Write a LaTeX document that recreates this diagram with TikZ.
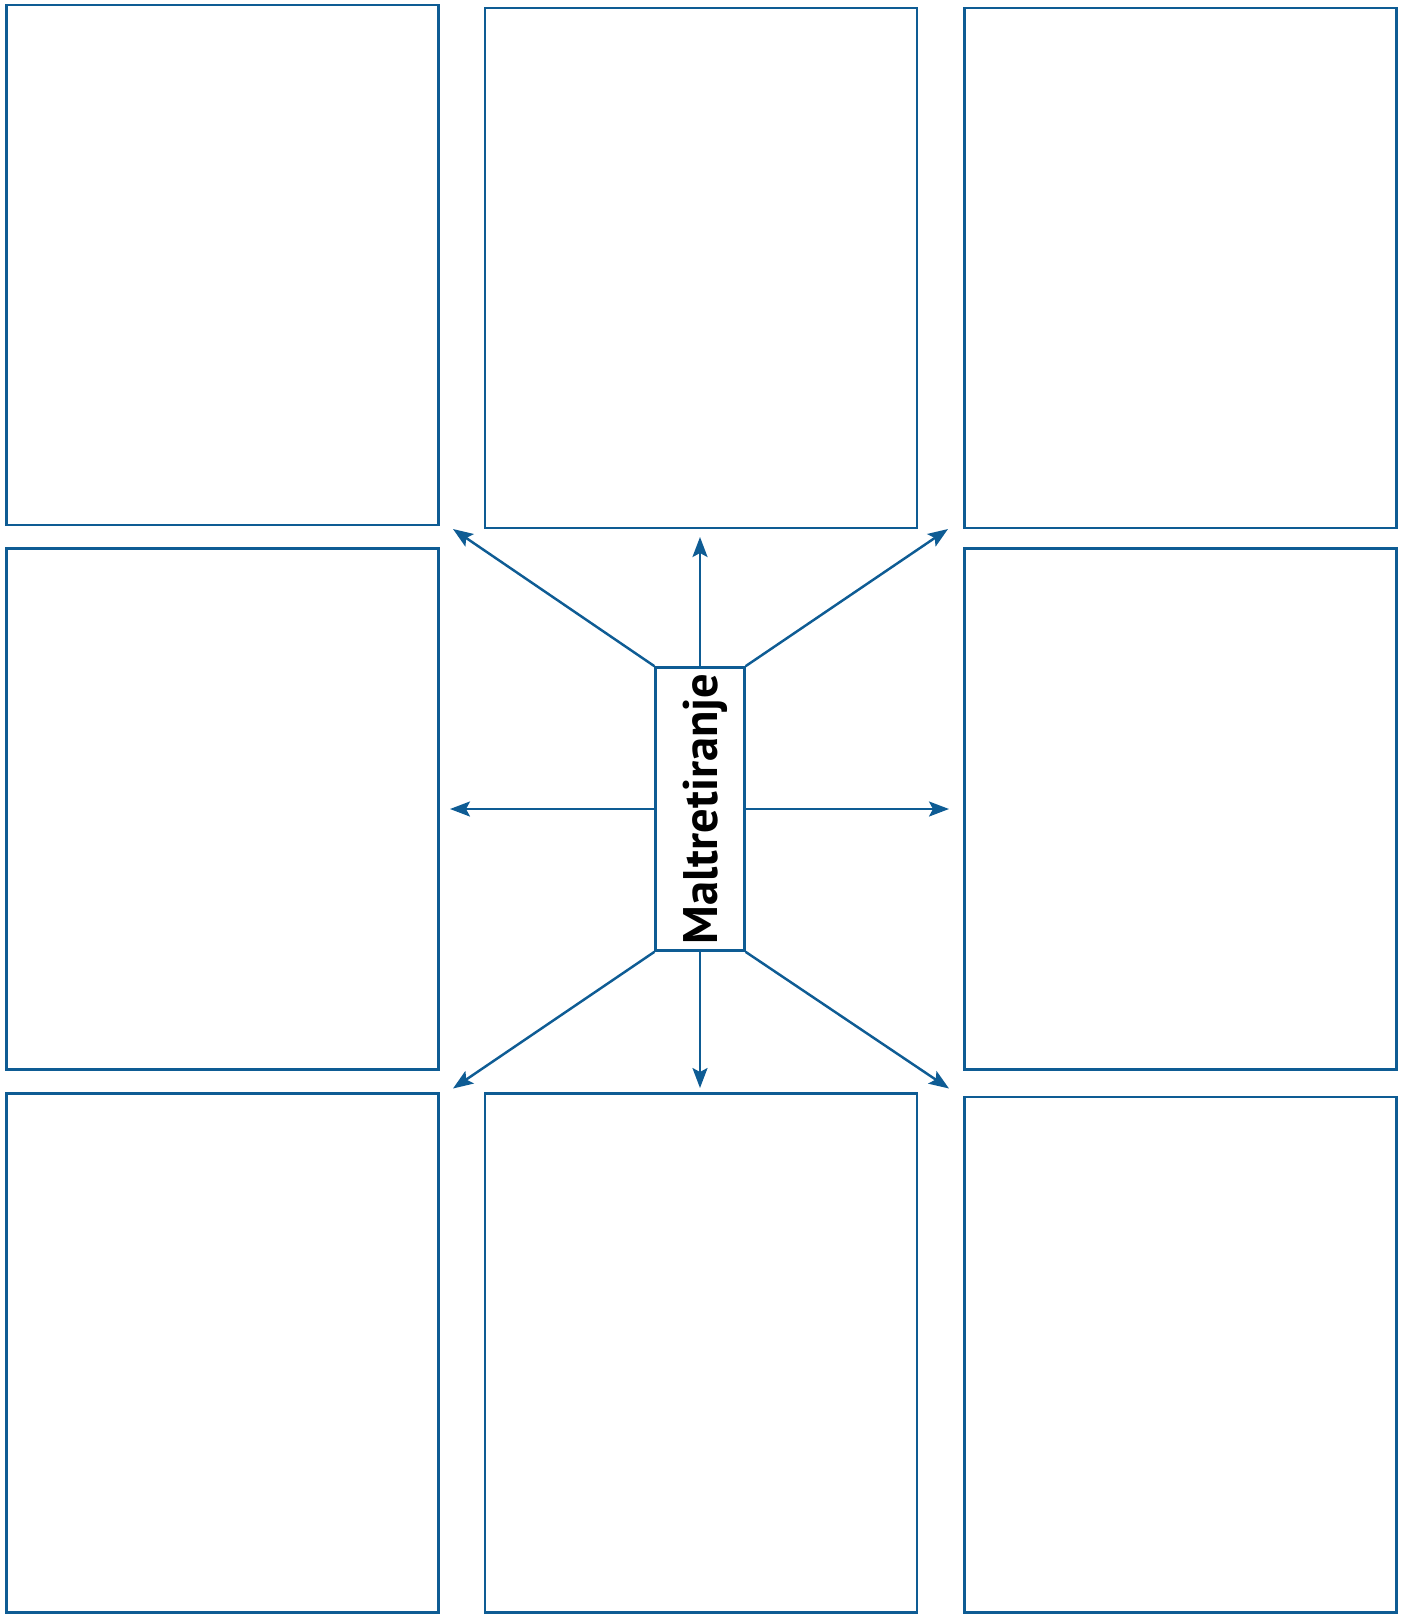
\documentclass[tikz,border=0pt]{standalone}
\usepackage{fontspec}
\setmainfont{PT Sans}
\usetikzlibrary{arrows.meta,positioning}
\definecolor{Frame}{HTML}{0E5C94}
\definecolor{Ink}{HTML}{000000}

\tikzset{
  panel/.style={draw=Frame,line width=0.75pt,minimum width=43.2mm,inner sep=0pt},
  hub/.style={draw=Frame,line width=0.75pt,fill=white,minimum width=8.85mm,minimum height=28.3mm,inner sep=0pt,text=Ink},
  link/.style={draw=Frame,line width=0.7pt,-{Stealth[length=2mm,width=1.5mm,inset=0.4mm]}}
}

\begin{document}
\begin{tikzpicture}[x=0.1mm,y=-0.1mm]
        \useasboundingbox (0,0) rectangle (1405,1614);
        % empty panels
        \node[panel,minimum height=52.0mm] (p1) at (222.3,265) {};
        \node[panel,minimum height=52.0mm] (p2) at (701,268) {};
        \node[panel,minimum height=52.0mm] (p3) at (1180.6,268) {};
        \node[panel,minimum height=52.05mm] (p4) at (222.3,809) {};
        \node[panel,minimum height=52.05mm] (p6) at (1180.6,809) {};
        \node[panel,minimum height=51.9mm] (p7) at (222.3,1353) {};
        \node[panel,minimum height=51.9mm] (p8) at (701,1353) {};
        \node[panel,minimum height=51.55mm] (p9) at (1180.6,1354.8) {};
        % centre word
        \node[hub] (hub) at (700,809) {\rotatebox{90}{\raisebox{0pt}[\height][0pt]{\fontsize{13.8}{15}\selectfont\bfseries Maltretiranje}}};
        % arrow ends
        \coordinate (tl) at (453,529);
        \coordinate (tc) at (700,537);
        \coordinate (tr) at (948,529);
        \coordinate (ml) at (450,809);
        \coordinate (mr) at (949,809);
        \coordinate (bl) at (453,1088.5);
        \coordinate (bc) at (700,1088);
        \coordinate (br) at (949,1088.5);
        \draw[link] (hub.north west) -- (tl);
        \draw[link] (hub.north) -- (tc);
        \draw[link] (hub.north east) -- (tr);
        \draw[link] (hub.west) -- (ml);
        \draw[link] (hub.east) -- (mr);
        \draw[link] (hub.south west) -- (bl);
        \draw[link] (hub.south) -- (bc);
        \draw[link] (hub.south east) -- (br);
      \end{tikzpicture}
\end{document}
